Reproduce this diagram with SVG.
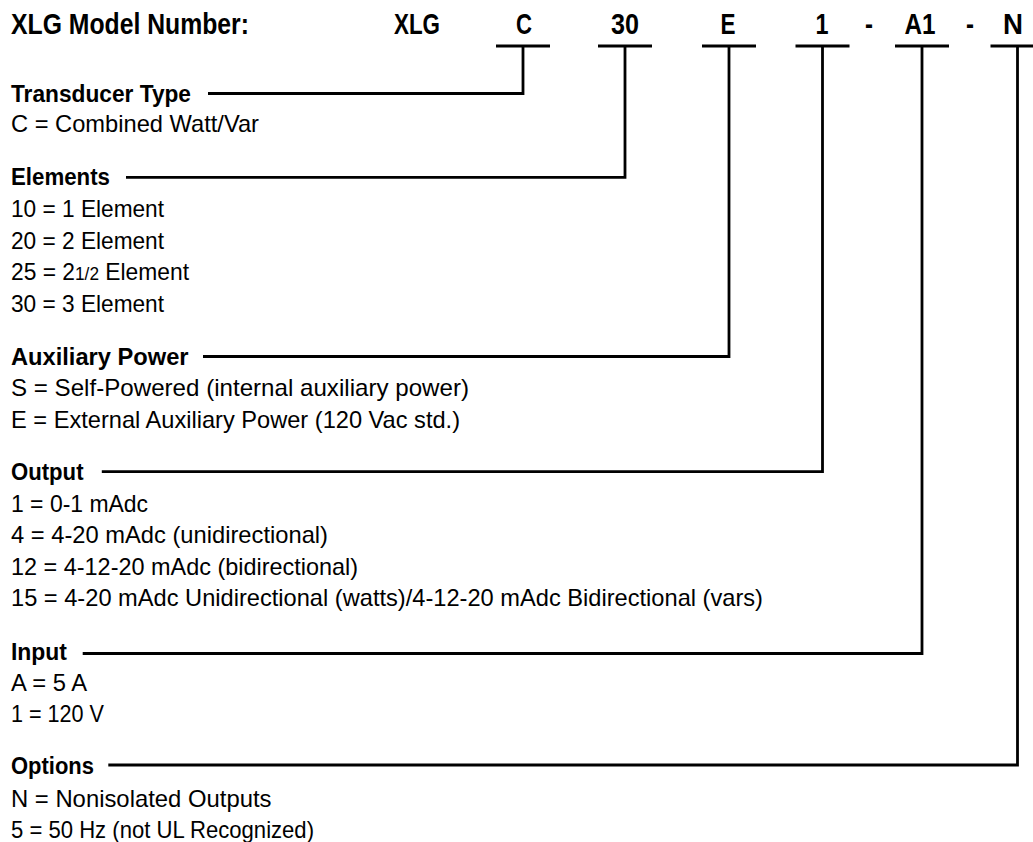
<svg xmlns="http://www.w3.org/2000/svg" width="1033" height="842" viewBox="0 0 1033 842">
<style>
text{font-family:"Liberation Sans",Arial,sans-serif;fill:#000}
.t{font-size:30px;font-weight:bold}
.c{font-size:30px;font-weight:bold;text-anchor:middle}
.h{font-size:23.5px;font-weight:bold}
.b{font-size:23.8px}
.f{font-size:18px}
.ln{fill:none;stroke:#000;stroke-width:2.8;stroke-linejoin:miter;stroke-linecap:butt}
</style>
<rect width="1033" height="842" fill="#fff"/>
<g id="model-number">
<text class="t" x="11" y="33.5" textLength="238" lengthAdjust="spacingAndGlyphs">XLG Model Number:</text>
<text class="t" x="394" y="33.5" textLength="46" lengthAdjust="spacingAndGlyphs">XLG</text>
<text class="c" x="524" y="33.5" textLength="16" lengthAdjust="spacingAndGlyphs">C</text>
<text class="c" x="625" y="33.5" textLength="28" lengthAdjust="spacingAndGlyphs">30</text>
<text class="c" x="728" y="33.5" textLength="15" lengthAdjust="spacingAndGlyphs">E</text>
<text class="c" x="822" y="33.5" textLength="13" lengthAdjust="spacingAndGlyphs">1</text>
<text class="c" x="869" y="33.5" textLength="8" lengthAdjust="spacingAndGlyphs">-</text>
<text class="c" x="920" y="33.5" textLength="31" lengthAdjust="spacingAndGlyphs">A1</text>
<text class="c" x="970" y="33.5" textLength="8" lengthAdjust="spacingAndGlyphs">-</text>
<text class="c" x="1013" y="33.5" textLength="20" lengthAdjust="spacingAndGlyphs">N</text>
</g>
<g id="transducer-type">
<text class="h" x="11" y="101.5" textLength="180" lengthAdjust="spacingAndGlyphs">Transducer Type</text>
<text class="b" x="11" y="131.7" textLength="248" lengthAdjust="spacingAndGlyphs">C = Combined Watt/Var</text>
</g>
<g id="elements">
<text class="h" x="11" y="185" textLength="99" lengthAdjust="spacingAndGlyphs">Elements</text>
<text class="b" x="11" y="217" textLength="153" lengthAdjust="spacingAndGlyphs">10 = 1 Element</text>
<text class="b" x="11" y="248.5" textLength="153" lengthAdjust="spacingAndGlyphs">20 = 2 Element</text>
<text class="b" x="11" y="280" textLength="178" lengthAdjust="spacingAndGlyphs">25 = 2<tspan class="f">1/2</tspan> Element</text>
<text class="b" x="11" y="312" textLength="153" lengthAdjust="spacingAndGlyphs">30 = 3 Element</text>
</g>
<g id="auxiliary-power">
<text class="h" x="11" y="364.5" textLength="177.5" lengthAdjust="spacingAndGlyphs">Auxiliary Power</text>
<text class="b" x="11" y="396" textLength="458" lengthAdjust="spacingAndGlyphs">S = Self-Powered (internal auxiliary power)</text>
<text class="b" x="11" y="427.5" textLength="449" lengthAdjust="spacingAndGlyphs">E = External Auxiliary Power (120 Vac std.)</text>
</g>
<g id="output">
<text class="h" x="11" y="479.5" textLength="72.5" lengthAdjust="spacingAndGlyphs">Output</text>
<text class="b" x="11" y="511.5" textLength="137" lengthAdjust="spacingAndGlyphs">1 = 0-1 mAdc</text>
<text class="b" x="11" y="543" textLength="317" lengthAdjust="spacingAndGlyphs">4 = 4-20 mAdc (unidirectional)</text>
<text class="b" x="11" y="574.5" textLength="347" lengthAdjust="spacingAndGlyphs">12 = 4-12-20 mAdc (bidirectional)</text>
<text class="b" x="11" y="606" textLength="752" lengthAdjust="spacingAndGlyphs">15 = 4-20 mAdc Unidirectional (watts)/4-12-20 mAdc Bidirectional (vars)</text>
</g>
<g id="input">
<text class="h" x="11" y="660" textLength="56" lengthAdjust="spacingAndGlyphs">Input</text>
<text class="b" x="11" y="691" textLength="76" lengthAdjust="spacingAndGlyphs">A = 5 A</text>
<text class="b" x="11" y="722.3" textLength="93" lengthAdjust="spacingAndGlyphs">1 = 120 V</text>
</g>
<g id="options">
<text class="h" x="11" y="773.5" textLength="83" lengthAdjust="spacingAndGlyphs">Options</text>
<text class="b" x="11" y="806.7" textLength="260.5" lengthAdjust="spacingAndGlyphs">N = Nonisolated Outputs</text>
<text class="b" x="11" y="838" textLength="303" lengthAdjust="spacingAndGlyphs">5 = 50 Hz (not UL Recognized)</text>
</g>
<g id="connectors" class="ln">
<line x1="496" y1="46" x2="550" y2="46"/>
<line x1="598" y1="46" x2="652" y2="46"/>
<line x1="702" y1="46" x2="756" y2="46"/>
<line x1="795.5" y1="46" x2="849.5" y2="46"/>
<line x1="895" y1="46" x2="949" y2="46"/>
<line x1="990.5" y1="46" x2="1044" y2="46"/>
<polyline points="208,93.5 523,93.5 523,46"/>
<polyline points="126,177.3 625,177.3 625,46"/>
<polyline points="203,356.5 729,356.5 729,46"/>
<polyline points="101.8,471.7 822.5,471.7 822.5,46"/>
<polyline points="82.7,653.5 922,653.5 922,46"/>
<polyline points="108.3,765 1017.5,765 1017.5,46"/>
</g>
</svg>
